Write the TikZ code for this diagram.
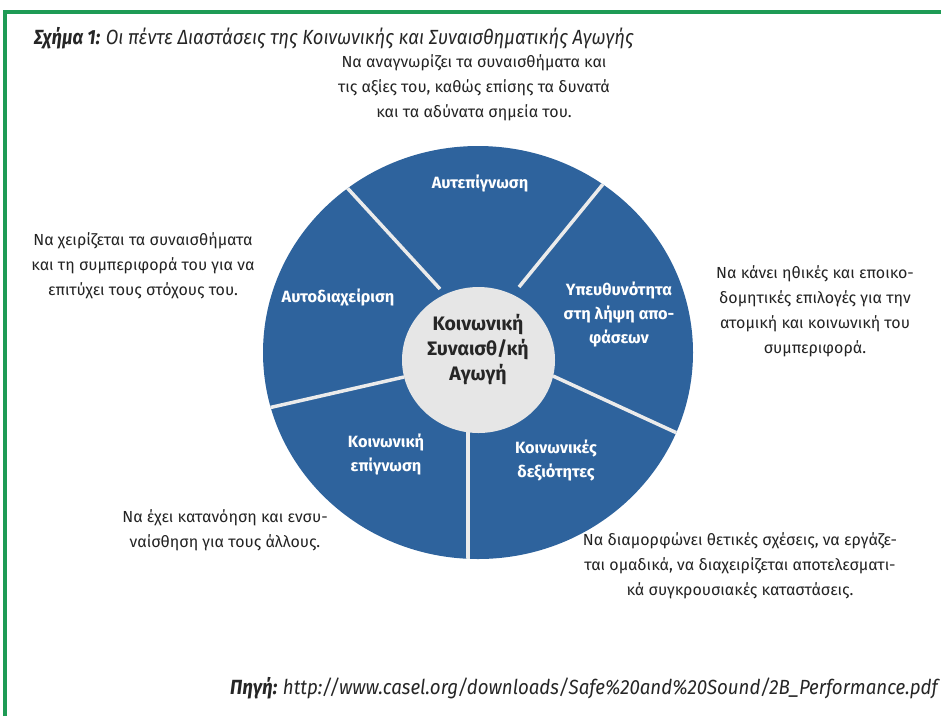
\documentclass[tikz,border=0pt]{standalone}
\usepackage{fontspec}
\setmainfont{Fira Sans}
\newfontfamily\condfont[FakeStretch=0.895]{Fira Sans}
\newfontfamily\srcfont[FakeStretch=0.912]{Fira Sans}
\definecolor{wheelblue}{RGB}{46,99,157}
\definecolor{hubgrey}{RGB}{230,230,230}
\definecolor{framegreen}{RGB}{30,155,85}
\definecolor{textgrey}{RGB}{35,35,35}
\begin{document}
\begin{tikzpicture}[x=1pt,y=-1pt,
  desc/.style={align=center,text=textgrey,font=\fontsize{16}{25}\selectfont,inner sep=0pt},
  seglabel/.style={align=center,text=white,font=\fontsize{16.3}{24}\selectfont\bfseries,inner sep=0pt},
  hublabel/.style={align=center,text=black!85,font=\fontsize{19.5}{25}\selectfont\bfseries,inner sep=0pt},
  divider/.style={draw=white!92!black,line width=3.5pt}]
\useasboundingbox (0,0) rectangle (941,716);
\fill[white] (0,0) rectangle (941,716);
% frame
\draw[framegreen,line width=4pt] (5,716) -- (5,12) -- (941,12);
% title
\node[anchor=west,inner sep=0pt,text=black!85,font=\condfont\fontsize{20.5}{24}\selectfont] (title) at (34,38)
  {\bfseries\itshape Σχήμα 1: \mdseries Οι πέντε Διαστάσεις της Κοινωνικής και Συναισθηματικής Αγωγής};
% wheel
\fill[wheelblue] (478,352.5) ellipse [x radius=215, y radius=206.5];
\coordinate (ul1) at (340,180); \coordinate (ul2) at (440,289);
\coordinate (ur1) at (608,178); \coordinate (ur2) at (519,287);
\coordinate (rl1) at (690,439); \coordinate (rl2) at (553,376);
\coordinate (bt1) at (468,570); \coordinate (bt2) at (468,430);
\coordinate (ll1) at (255,411); \coordinate (ll2) at (404,377);
\begin{scope}
\clip (478,352.5) ellipse [x radius=215, y radius=206.5];
\draw[divider] (ul1) -- (ul2);
\draw[divider] (ur1) -- (ur2);
\draw[divider] (rl1) -- (rl2);
\draw[divider] (bt1) -- (bt2);
\draw[divider] (ll1) -- (ll2);
\end{scope}
\fill[hubgrey] (478.5,360) ellipse [x radius=76.5, y radius=73];
\node[hublabel] (hub) at (478,350) {Κοινωνική\\Συναισθ/κή\\Αγωγή};
% segment labels
\node[seglabel] (s1) at (480,183) {Αυτεπίγνωση};
\node[seglabel] (s2) at (338,297) {Αυτοδιαχείριση};
\node[seglabel] (s3) at (619,314) {Υπευθυνότητα\\στη λήψη απο-\\φάσεων};
\node[seglabel] (s4) at (386,454) {Κοινωνική\\επίγνωση};
\node[seglabel] (s5) at (556,460) {Κοινωνικές\\δεξιότητες};
% descriptions
\node[desc] (d1) at (474,88) {Να αναγνωρίζει τα συναισθήματα και\\τις αξίες του, καθώς επίσης τα δυνατά\\και τα αδύνατα σημεία του.};
\node[desc] (d2) at (143,266) {Να χειρίζεται τα συναισθήματα\\και τη συμπεριφορά του για να\\επιτύχει τους στόχους του.};
\node[desc] (d3) at (815,311) {Να κάνει ηθικές και εποικο-\\δομητικές επιλογές για την\\ατομική και κοινωνική του\\συμπεριφορά.};
\node[desc] (d4) at (225,530) {Να έχει κατανόηση και ενσυ-\\ναίσθηση για τους άλλους.};
\node[desc] (d5) at (740,566) {Να διαμορφώνει θετικές σχέσεις, να εργάζε-\\ται ομαδικά, να διαχειρίζεται αποτελεσματι-\\κά συγκρουσιακές καταστάσεις.};
% source
\node[anchor=east,inner sep=0pt,text=black!85,font=\srcfont\fontsize{20.5}{24}\selectfont] (src) at (938,688)
  {\bfseries\itshape Πηγή: \mdseries http://www.casel.org/downloads/Safe\%20and\%20Sound/2B\_Performance.pdf};
\end{tikzpicture}
\end{document}
